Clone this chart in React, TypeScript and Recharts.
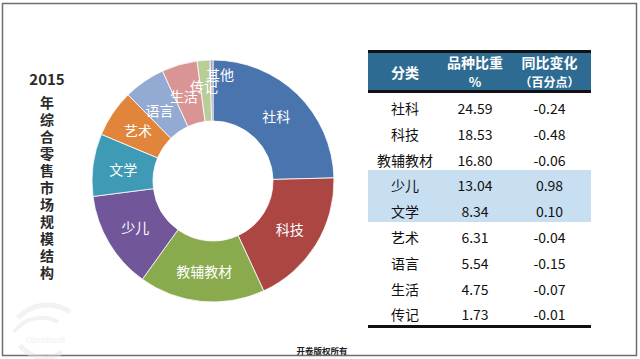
import React from 'react';
import { PieChart, Pie, Cell } from 'recharts';

const categories = ['社科', '科技', '教辅教材', '少儿', '文学', '艺术', '语言', '生活', '传记'];
const shares = [24.59, 18.53, 16.8, 13.04, 8.34, 6.31, 5.54, 4.75, 1.73];
const shareLabels = ['24.59', '18.53', '16.80', '13.04', '8.34', '6.31', '5.54', '4.75', '1.73'];
const yoyChanges = ['-0.24', '-0.48', '-0.06', '0.98', '0.10', '-0.04', '-0.15', '-0.07', '-0.01'];
const otherName = '其他';
const otherShare = 0.37;
const highlightRows = ['少儿', '文学'];
const headers = [['分类'], ['品种比重', '%'], ['同比变化', '（百分点）']];
const titleYear = '2015';
const titleChars = '年综合零售市场规模结构';
const footerText = '开卷版权所有';

const sliceColors = ['#4A74AE', '#AC4643', '#8AAA4E', '#71569A', '#3F9AB5', '#E0853B', '#93AAD3', '#D99593', '#B9CD97', '#A99BC2'];

const pieData = categories
  .map((name, i) => ({ name, value: shares[i] }))
  .concat([{ name: otherName, value: otherShare }]);

const RADIAN = Math.PI / 180;
const FONT = '"Noto Sans CJK SC", "Noto Sans", sans-serif';

// small nudges for the crowded labels at the top of the ring (pixels)
const labelNudge: Record<string, [number, number]> = {
  语言: [-2, 3],
  生活: [-4, 2],
  传记: [-2, -5],
  其他: [8, -17],
};

const renderLabel = (props: any) => {
  const { cx, cy, midAngle, innerRadius, outerRadius, name } = props;
  const r = (innerRadius + outerRadius) / 2;
  const [dx, dy] = labelNudge[name] || [0, 0];
  const x = cx + r * Math.cos(-midAngle * RADIAN) + dx;
  const y = cy + r * Math.sin(-midAngle * RADIAN) + dy;
  return (
    <text
      x={x}
      y={y}
      fill="#ffffff"
      textAnchor="middle"
      dominantBaseline="central"
      style={{ fontFamily: FONT, fontSize: 14 }}
    >
      {name}
    </text>
  );
};

const colLefts = [368, 442, 508];
const colWidths = [74, 66, 83];
const ROW_TOP = 93;
const ROW_H = 25.8;

export default function App() {
  return (
    <div
      style={{
        position: 'absolute',
        left: 0,
        top: 0,
        width: 640,
        height: 359,
        background: '#ffffff',
        overflow: 'hidden',
        fontFamily: FONT,
      }}
    >
      {/* frame + watermark */}
      <svg width={640} height={359} style={{ position: 'absolute', left: 0, top: 0 }}>
        <rect x={2.5} y={3.5} width={634} height={352} fill="none" stroke="#6d6d6d" strokeWidth={1.5} />
        <g opacity={0.5}>
          <path d="M 18 318 A 40 40 0 0 1 70 312" fill="none" stroke="#e6e6e6" strokeWidth={5} />
          <path d="M 14 332 A 34 34 0 0 1 58 322" fill="none" stroke="#e6e6e6" strokeWidth={4} />
          <path d="M 20 345 A 30 30 0 0 0 62 352" fill="none" stroke="#e6e6e6" strokeWidth={5} />
          <text x={26} y={343} fill="#e2e2e2" style={{ fontSize: 8, fontFamily: FONT }}>OpenBook</text>
        </g>
      </svg>

      {/* title */}
      <div
        style={{
          position: 'absolute',
          left: 27,
          top: 70,
          width: 40,
          textAlign: 'center',
          fontWeight: 'bold',
          fontSize: 15,
          lineHeight: '18px',
          color: '#2a2a2a',
        }}
      >
        {titleYear}
      </div>
      <div
        style={{
          position: 'absolute',
          left: 27,
          top: 96,
          width: 40,
          height: 190,
          display: 'flex',
          justifyContent: 'center',
        }}
      >
        <div
          style={{
            writingMode: 'vertical-rl',
            textOrientation: 'upright',
            fontWeight: 'bold',
            fontSize: 14,
            letterSpacing: '3px',
            lineHeight: '20px',
            color: '#2a2a2a',
          }}
        >
          {titleChars}
        </div>
      </div>

      {/* donut */}
      <div style={{ position: 'absolute', left: 0, top: 0 }}>
        <PieChart width={640} height={359}>
          <Pie
            data={pieData}
            dataKey="value"
            nameKey="name"
            cx={208}
            cy={176}
            innerRadius={60}
            outerRadius={121}
            startAngle={90}
            endAngle={-270}
            stroke="#ffffff"
            strokeWidth={0.8}
            label={renderLabel}
            labelLine={false}
            isAnimationActive={false}
          >
            {pieData.map((d, i) => (
              <Cell key={d.name} fill={sliceColors[i % sliceColors.length]} />
            ))}
          </Pie>
        </PieChart>
      </div>

      {/* table */}
      <div style={{ position: 'absolute', left: 368, top: 50, width: 223, height: 3, background: '#111' }} />
      <div style={{ position: 'absolute', left: 368, top: 53, width: 223, height: 37, background: '#2E6B92' }} />
      <div style={{ position: 'absolute', left: 368, top: 90, width: 223, height: 3, background: '#111' }} />
      {headers.map((lines, ci) => (
        <div
          key={ci}
          style={{
            position: 'absolute',
            left: colLefts[ci],
            width: colWidths[ci],
            top: 53,
            height: 37,
            display: 'flex',
            flexDirection: 'column',
            justifyContent: 'center',
            alignItems: 'center',
            color: '#ffffff',
            fontWeight: 'bold',
          }}
        >
          {lines.map((t, li) => (
            <div
              key={li}
              style={{
                fontSize: li === 1 && ci === 2 ? 12 : li === 1 ? 13 : 14,
                lineHeight: '20px',
                height: 20,
                whiteSpace: 'nowrap',
              }}
            >
              {t}
            </div>
          ))}
        </div>
      ))}
      {categories.map((cat, i) =>
        highlightRows.includes(cat) ? (
          <div
            key={'hl' + i}
            style={{
              position: 'absolute',
              left: 368,
              width: 223,
              top: ROW_TOP + i * ROW_H,
              height: ROW_H + 0.5,
              background: '#C8DEF1',
            }}
          />
        ) : null
      )}
      {categories.map((cat, i) =>
        [cat, shareLabels[i], yoyChanges[i]].map((t, ci) => (
          <div
            key={i + '-' + ci}
            style={{
              position: 'absolute',
              left: colLefts[ci],
              width: colWidths[ci],
              top: ROW_TOP + i * ROW_H + 3,
              height: ROW_H,
              lineHeight: ROW_H + 'px',
              textAlign: 'center',
              fontSize: 14,
              color: '#111',
              whiteSpace: 'nowrap',
            }}
          >
            {t}
          </div>
        ))
      )}
      <div style={{ position: 'absolute', left: 368, top: 325, width: 223, height: 3, background: '#111' }} />

      {/* footer */}
      <div
        style={{
          position: 'absolute',
          left: 270,
          width: 104,
          top: 344,
          textAlign: 'center',
          fontSize: 8.5,
          fontWeight: 'bold',
          lineHeight: '12px',
          color: '#222',
        }}
      >
        {footerText}
      </div>
    </div>
  );
}
